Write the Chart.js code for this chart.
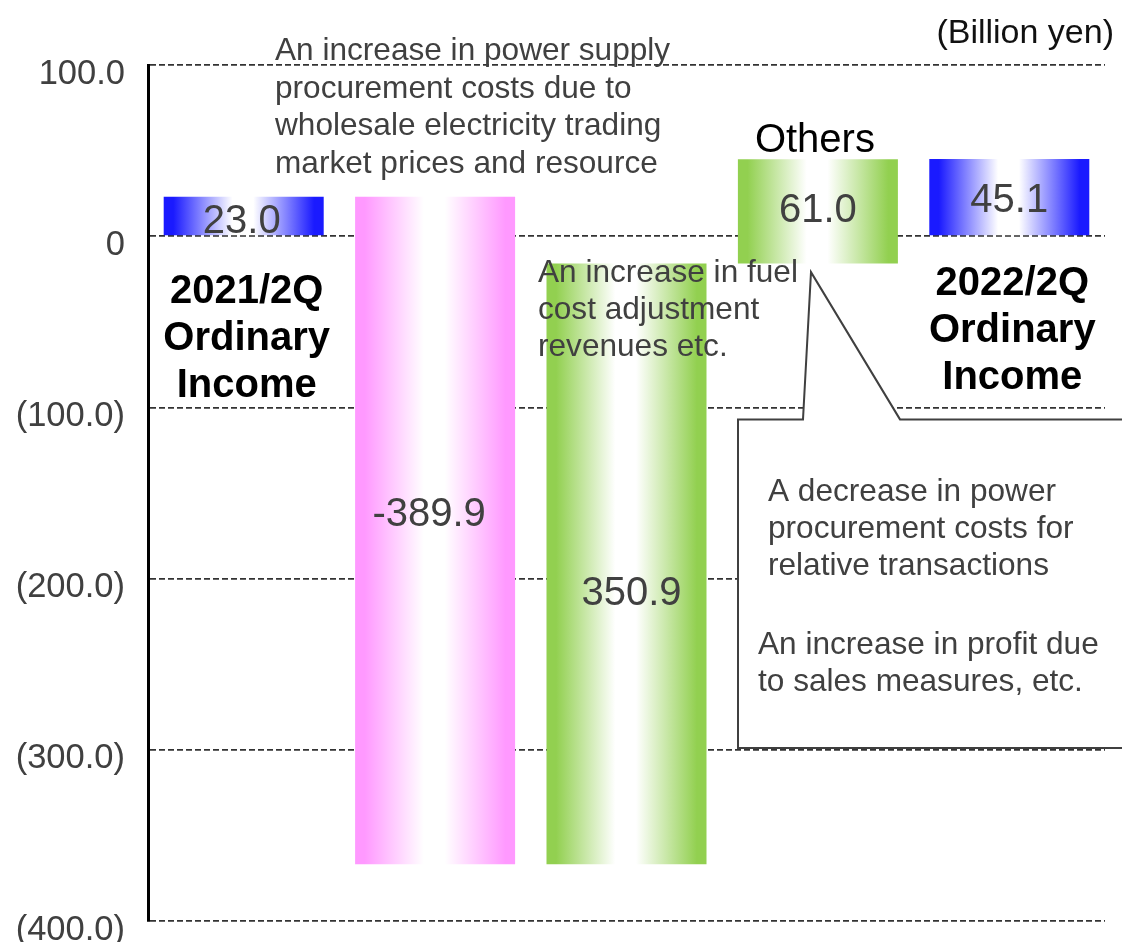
<!DOCTYPE html>
<html>
<head>
<meta charset="utf-8">
<script src="https://cdn.jsdelivr.net/npm/chart.js@4.4.1/dist/chart.umd.min.js"></script>
<style>
  html, body { margin: 0; padding: 0; background: #fff; }
  #wrap { width: 1122px; height: 942px; }
</style>
</head>
<body>
<div id="wrap"><canvas id="myChart" width="1122" height="942"></canvas></div>
<script>
// waterfall data (billion yen)
var categories = ['2021/2Q Ordinary Income', 'Power procurement costs', 'Fuel cost adjustment revenues', 'Others', '2022/2Q Ordinary Income'];
var values = [23.0, -389.9, 350.9, 61.0, 45.1];
var kinds = ['total', 'step', 'step', 'step', 'total'];
var valueLabels = ['23.0', '-389.9', '350.9', '61.0', '45.1'];
var tickValues = [100, 0, -100, -200, -300, -400];
var tickLabels = ['100.0', '0', '(100.0)', '(200.0)', '(300.0)', '(400.0)'];

var FONT = '"Liberation Sans", Arial, Helvetica, sans-serif';
var barColors = ['#1a1aff', '#ff99ff', '#92d050', '#92d050', '#1a1aff'];
var BAR_PCT = 0.836;

// floating bars: totals start at 0, steps start where the last bar ended
var run = 0;
var ranges = values.map(function (v, i) {
    if (kinds[i] === 'total') { run = v; return [0, v]; }
    var r = [run, run + v];
    run += v;
    return r;
});

function barFill(ctx) {
    var chart = ctx.chart;
    var c = barColors[ctx.dataIndex];
    if (!chart.chartArea || ctx.type !== 'data') return c;
    var xs = chart.scales.x;
    var cx = xs.getPixelForValue(ctx.dataIndex);
    var half = xs.width / categories.length * BAR_PCT / 2;
    var g = chart.ctx.createLinearGradient(cx - half, 0, cx + half, 0);
    g.addColorStop(0, c);
    g.addColorStop(0.06, c);
    g.addColorStop(0.43, '#ffffff');
    g.addColorStop(0.56, '#ffffff');
    g.addColorStop(0.94, c);
    g.addColorStop(1, c);
    return g;
}

// bold labels under the totals, offsets from the zero line
var totalLabelLines = {
    0: { lines: ['2021/2Q', 'Ordinary', 'Income'], dy: 67 },
    4: { lines: ['2022/2Q', 'Ordinary', 'Income'], dy: 59 }
};
// nudges for the value labels inside bars
var labelNudge = [[-2, 6], [-6, -16], [5, 30], [0, 0], [0, 4]];

function drawLines(ctx, lines, x, y, step) {
    lines.forEach(function (t, i) { ctx.fillText(t, x, y + i * step); });
}

var overlay = {
    id: 'overlay',
    afterDraw: function (chart) {
        var ctx = chart.ctx;
        var ys = chart.scales.y;
        var meta = chart.getDatasetMeta(0);
        var zero = ys.getPixelForValue(0);
        ctx.save();

        // callout box pointing at "Others"
        var top = ys.getPixelForValue(-107);
        var bottom = ys.getPixelForValue(-299);
        var tipY = ys.getPixelForValue(-21);
        ctx.beginPath();
        ctx.moveTo(738, bottom);
        ctx.lineTo(738, top);
        ctx.lineTo(803, top);
        ctx.lineTo(811, tipY);
        ctx.lineTo(900, top);
        ctx.lineTo(1135, top);
        ctx.lineTo(1135, bottom);
        ctx.closePath();
        ctx.fillStyle = '#ffffff';
        ctx.fill();
        ctx.lineWidth = 2;
        ctx.strokeStyle = '#404040';
        ctx.stroke();

        // value labels
        ctx.textAlign = 'center';
        ctx.textBaseline = 'middle';
        ctx.font = '40px ' + FONT;
        ctx.fillStyle = '#404040';
        meta.data.forEach(function (el, i) {
            var cy = (el.y + el.base) / 2;
            ctx.fillText(valueLabels[i], el.x + labelNudge[i][0], cy + labelNudge[i][1]);
        });

        // total labels
        ctx.textBaseline = 'alphabetic';
        ctx.font = 'bold 40px ' + FONT;
        ctx.fillStyle = '#000000';
        Object.keys(totalLabelLines).forEach(function (k) {
            var el = meta.data[k];
            var o = totalLabelLines[k];
            drawLines(ctx, o.lines, el.x + 3, zero + o.dy, 47);
        });

        ctx.font = '40px ' + FONT;
        ctx.fillText(categories[3], meta.data[3].x - 3, 152);

        // unit
        ctx.textAlign = 'right';
        ctx.font = '34px ' + FONT;
        ctx.fillStyle = '#111111';
        ctx.fillText('(Billion yen)', 1114, 43);

        // notes
        ctx.textAlign = 'left';
        ctx.font = '31.6px ' + FONT;
        ctx.fillStyle = '#404040';
        drawLines(ctx, ['An increase in power supply', 'procurement costs due to',
            'wholesale electricity trading', 'market prices and resource'], 275, 60, 37.5);
        drawLines(ctx, ['An increase in fuel', 'cost adjustment', 'revenues etc.'], 538, 282, 37);
        drawLines(ctx, ['A decrease in power', 'procurement costs for', 'relative transactions'], 768, 501, 37);
        drawLines(ctx, ['An increase in profit due', 'to sales measures, etc.'], 758, 654, 37);

        ctx.restore();
    }
};

function createChart() {
    var ctx = document.getElementById('myChart').getContext('2d');
    Chart.defaults.font.family = FONT;
    var chart = new Chart(ctx, {
        type: 'bar',
        data: {
            labels: categories,
            datasets: [{
                data: ranges,
                backgroundColor: barFill,
                borderWidth: 0,
                borderSkipped: false,
                barPercentage: BAR_PCT,
                categoryPercentage: 1
            }]
        },
        options: {
            responsive: false,
            animation: false,
            events: [],
            layout: { padding: { top: 65, left: 0, right: 17, bottom: 21 } },
            plugins: {
                legend: { display: false },
                tooltip: { enabled: false }
            },
            scales: {
                x: { display: false },
                y: {
                    min: -400,
                    max: 100,
                    afterBuildTicks: function (s) {
                        s.ticks = tickValues.slice().sort(function (a, b) { return a - b; })
                            .map(function (v) { return { value: v }; });
                    },
                    afterFit: function (s) {
                        s.width = 148;
                        s.paddingTop = 0;
                        s.paddingBottom = 0;
                    },
                    ticks: {
                        padding: 23,
                        labelOffset: 9,
                        color: '#404040',
                        font: { size: 34.5 },
                        callback: function (v) { return tickLabels[tickValues.indexOf(v)]; }
                    },
                    grid: { color: '#333333', lineWidth: 1.8, drawTicks: false },
                    border: { display: true, color: '#000000', width: 3, dash: [6, 3] }
                }
            }
        },
        plugins: [overlay]
    });
}

createChart();
</script>
</body>
</html>
